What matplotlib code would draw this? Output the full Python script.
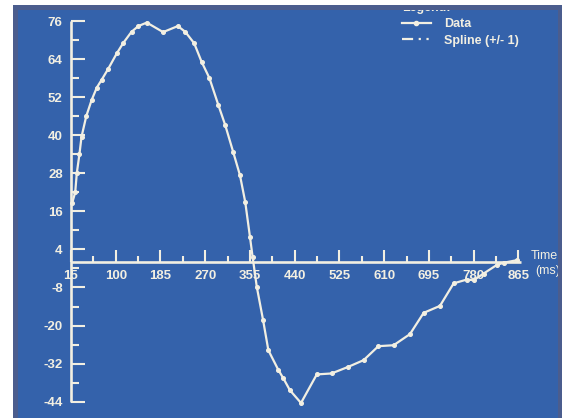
import matplotlib
matplotlib.use("Agg")
import matplotlib.pyplot as plt
from matplotlib.lines import Line2D
from matplotlib.patches import Rectangle

# ---- data ----
time_ms = [17, 23, 26, 31, 35, 44, 54, 64, 73, 86, 102, 114, 130, 143, 159, 190,
           218, 232, 249, 263, 278, 295, 308, 323, 336, 346, 355, 360, 368, 380,
           390, 409, 418, 431, 452, 482, 510, 542, 571, 599, 628, 659, 685, 716,
           742, 767, 780, 799, 824, 837, 862]
values = [18.5, 22, 28, 34, 39.5, 46, 51, 55, 57.4, 61, 65.8, 69, 72.6, 74.4, 75.5, 72.5,
          74.4, 72.6, 69, 63.2, 58, 49.5, 43.2, 34.8, 27.4, 19, 8, 1.7, -7.8, -18.3,
          -27.8, -34, -36.5, -40.4, -44.4, -35.4, -35.1, -33, -30.9, -26.5, -26.2, -22.7,
          -16, -13.8, -6.7, -5.5, -5.7, -3.6, -0.9, -0.2, 0.6]
x_ticks = [15, 100, 185, 270, 355, 440, 525, 610, 695, 780, 865]
y_ticks = [-44, -32, -20, -8, 4, 16, 28, 40, 52, 64, 76]
legend_labels = ["Data", "Spline (+/- 1)"]

W, H = 562, 418
BLUE = "#3462ab"
SLATE = "#4b5d8e"
INK = "#f2efe2"

fig = plt.figure(figsize=(W / 100, H / 100), dpi=100)
fig.patch.set_facecolor("white")

def fr(x0, y0, x1, y1, color, z):
    # rectangle in figure pixels (top-left origin)
    r = Rectangle((x0 / W, 1 - y1 / H), (x1 - x0) / W, (y1 - y0) / H,
                  transform=fig.transFigure, facecolor=color, edgecolor="none", zorder=z)
    fig.add_artist(r)

fr(13, 5, W, H, SLATE, -10)
fr(18, 10, 558, H, BLUE, -9)

left_px, right_px, top_px, bot_px = 71, 521, 21, 401.7
ax = fig.add_axes([left_px / W, 1 - bot_px / H, (right_px - left_px) / W, (bot_px - top_px) / H])
ax.patch.set_visible(False)
ax.set_xlim(15, 870)
ax.set_ylim(-44, 76)

for s in ["top", "right"]:
    ax.spines[s].set_visible(False)
ax.spines["bottom"].set_position(("data", 0))
ax.spines["left"].set_position(("data", 15))
for s in ["bottom", "left"]:
    ax.spines[s].set_color(INK)
    ax.spines[s].set_linewidth(1.9)
    ax.spines[s].set_capstyle("butt")

ax.set_xticks(x_ticks)
ax.set_xticklabels([str(v) for v in x_ticks])
ax.set_xticks([(a + b) / 2 for a, b in zip(x_ticks[:-1], x_ticks[1:])], minor=True)
ax.set_yticks(y_ticks)
ax.set_yticklabels([str(v) for v in y_ticks])
ax.set_yticks([(a + b) / 2 for a, b in zip(y_ticks[:-1], y_ticks[1:])], minor=True)

ax.tick_params(axis="x", which="major", direction="in", length=8.6, width=1.5,
               color=INK, labelcolor=INK, labelsize=9.5, pad=6)
ax.tick_params(axis="x", which="minor", direction="in", length=4.3, width=1.5, color=INK)
ax.tick_params(axis="y", which="major", direction="in", length=10, width=1.5,
               color=INK, labelcolor=INK, labelsize=9.5, pad=6)
ax.tick_params(axis="y", which="minor", direction="in", length=5.8, width=1.5, color=INK)
for lab in ax.get_xticklabels() + ax.get_yticklabels():
    lab.set_fontfamily("Liberation Sans")
    lab.set_fontweight("bold")

ax.plot(time_ms, values, color=INK, lw=1.6, marker="o", ms=2.6, mfc=INK, mec=INK,
        clip_on=False, zorder=5)

# axis title at the end of the time axis
fig.text(531 / W, 1 - 256 / H, "Time", color=INK, fontsize=9, fontfamily="Liberation Sans",
         va="center", ha="left", zorder=1)
fig.text(535 / W, 1 - 271 / H, "(ms)", color=INK, fontsize=9, fontfamily="Liberation Sans",
         va="center", ha="left", zorder=1)

handles = [Line2D([], [], color=INK, lw=1.6, marker="o", ms=3, markevery=[0, -1]),
           Line2D([], [], color=INK, lw=1.6, linestyle=(0, (5, 2.5, 1, 2.5, 1, 2.5)))]
leg = fig.legend(handles, legend_labels, title="Legend:", loc="upper left",
                 bbox_to_anchor=(397 / W, 1 + 3 / H), frameon=False,
                 prop={"family": "Liberation Sans", "size": 9, "weight": "bold"},
                 title_fontproperties={"family": "Liberation Sans", "size": 9, "weight": "bold"},
                 labelcolor=INK, handlelength=2.3, handletextpad=1.1, labelspacing=0.35,
                 borderaxespad=0)
leg.get_title().set_color(INK)
leg._legend_box.align = "left"
leg.set_zorder(1)

# frame strips on top (they clip the legend title and axis title as in the reference)
fr(0, 0, W, 5, "white", 20)
fr(0, 0, 13, H, "white", 20)
fr(13, 5, W, 10, SLATE, 20)
fr(13, 5, 18, H, SLATE, 20)
fr(558, 5, W, H, SLATE, 20)

fig.savefig("out.png", dpi=100, facecolor=fig.get_facecolor())
